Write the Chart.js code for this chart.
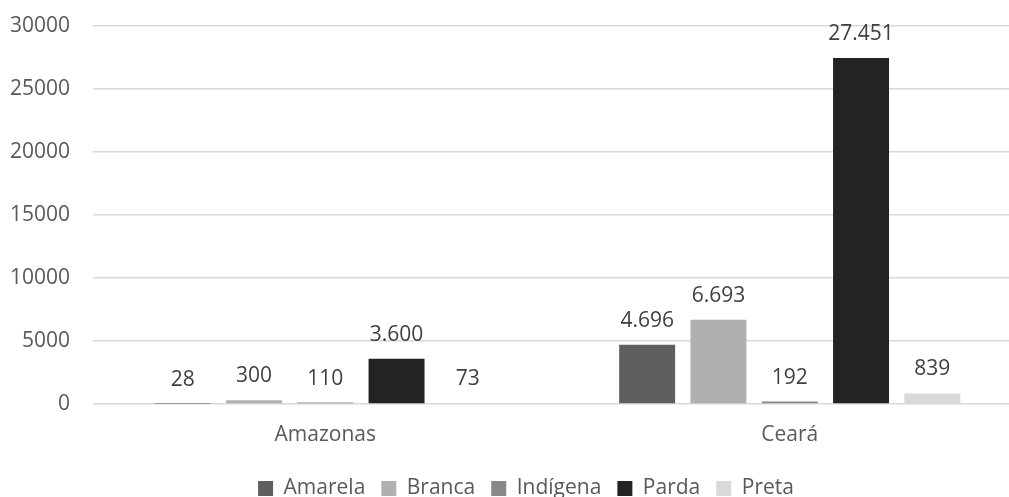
<!DOCTYPE html>
<html>
<head>
<meta charset="utf-8">
<script src="https://cdn.jsdelivr.net/npm/chart.js@4/dist/chart.umd.min.js"></script>
<style>
  html, body { margin: 0; padding: 0; background: #ffffff; overflow: hidden; }
  #wrap { width: 1025px; height: 497px; }
</style>
</head>
<body>
<div id="wrap"><canvas id="c" width="1025" height="497"></canvas></div>
<script>
const categories = ['Amazonas', 'Ceará'];
const seriesNames = ['Amarela', 'Branca', 'Indígena', 'Parda', 'Preta'];
const amarela = [28, 4696];
const branca = [300, 6693];
const indigena = [110, 192];
const parda = [3600, 27451];
const preta = [73, 839];
const seriesColors = ['#5f5f5f', '#b0b0b0', '#888888', '#232323', '#d9d9d9'];
const yTicks = [0, 5000, 10000, 15000, 20000, 25000, 30000];

const FONT = "'Open Sans', sans-serif";

function fmtBR(v) {
  return String(v).replace(/\B(?=(\d{3})+(?!\d))/g, '.');
}

const valueLabels = {
  id: 'valueLabels',
  afterDatasetsDraw(chart) {
    const ctx = chart.ctx;
    ctx.save();
    ctx.font = '21px ' + FONT;
    ctx.fillStyle = '#404040';
    ctx.textAlign = 'center';
    ctx.textBaseline = 'middle';
    chart.data.datasets.forEach((ds, i) => {
      const meta = chart.getDatasetMeta(i);
      meta.data.forEach((el, j) => {
        ctx.fillText(fmtBR(ds.data[j]), el.x, el.y - 24);
      });
    });
    ctx.restore();
  }
};

const legendShift = {
  id: 'legendShift',
  afterLayout(chart) {
    if (chart.legend) {
      chart.legend.left += 12;
      chart.legend.right += 12;
    }
  }
};

const allSeries = [amarela, branca, indigena, parda, preta];

new Chart(document.getElementById('c'), {
  type: 'bar',
  data: {
    labels: categories,
    datasets: allSeries.map((d, i) => ({
      label: seriesNames[i],
      data: d,
      backgroundColor: seriesColors[i],
      borderWidth: 0,
      categoryPercentage: 0.7675,
      barPercentage: 0.785
    }))
  },
  options: {
    responsive: false,
    animation: false,
    layout: { padding: { top: 26, left: 6, right: 3, bottom: -12 } },
    scales: {
      x: {
        grid: { display: false },
        border: { display: false },
        afterFit(scale) { scale.height = 58; },
        ticks: { color: '#595959', font: { family: FONT, size: 21 }, padding: 10 }
      },
      y: {
        min: 0,
        max: 30000,
        afterBuildTicks(scale) { scale.ticks = yTicks.map(v => ({ value: v })); },
        afterFit(scale) { scale.width = 87; scale.paddingTop = 0; scale.paddingBottom = 0; },
        grid: { color: '#d9d9d9', lineWidth: 1.5, drawTicks: false },
        border: { display: false },
        ticks: {
          color: '#595959',
          font: { family: FONT, size: 21 },
          padding: 23,
          callback: (v) => String(v)
        }
      }
    },
    plugins: {
      legend: {
        position: 'bottom',
        labels: {
          color: '#595959',
          font: { family: FONT, size: 21 },
          boxWidth: 15,
          boxHeight: 15,
          padding: 16
        }
      },
      tooltip: { enabled: false }
    }
  },
  plugins: [valueLabels, legendShift]
});
</script>
</body>
</html>
